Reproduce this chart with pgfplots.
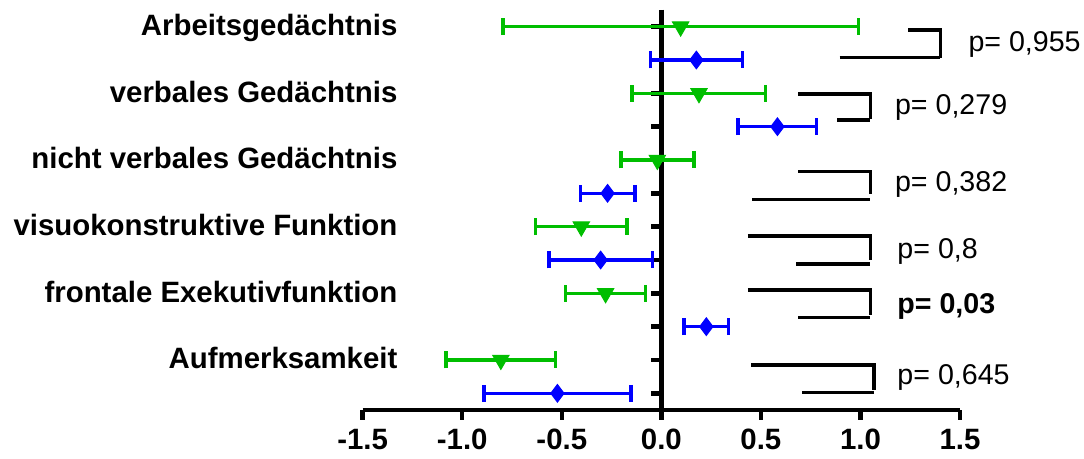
\documentclass[border=0pt]{standalone}
\usepackage{pgfplots}
\pgfplotsset{compat=1.18}
\usepackage{pgfplotstable}
\usepackage{fontspec}
\setmainfont{Liberation Sans}
\definecolor{pgreen}{RGB}{0,190,0}
\definecolor{pblue}{RGB}{0,0,255}

\pgfplotstableread{
y x em ep
1 0.097 0.893 0.893
3 0.189 0.335 0.335
5 -0.020 0.183 0.183
7 -0.402 0.230 0.230
9 -0.280 0.201 0.201
11 -0.806 0.275 0.275
}\greentab
\pgfplotstableread{
y x em ep
2 0.176 0.231 0.231
4 0.583 0.197 0.197
6 -0.270 0.137 0.137
8 -0.305 0.260 0.260
10 0.226 0.112 0.112
12 -0.522 0.369 0.369
}\bluetab

\newcommand{\lab}{\fontsize{14.7}{17}\selectfont}
\newcommand{\plab}{\fontsize{14.3}{17}\selectfont}
\begin{document}
\begin{tikzpicture}
\begin{axis}[
  scale only axis, width=298.65pt, height=200pt,
  xmin=-1.5, xmax=1.5, ymin=0.5, ymax=12.5, y dir=reverse,
  axis x line=bottom, axis y line=middle,
  axis line style={-, line width=2.25pt, black},
  every inner x axis line/.append style={-, line width=2.25pt},
  every inner y axis line/.append style={-, line width=2.25pt},
  every outer x axis line/.append style={-, line width=2.25pt},
  every outer y axis line/.append style={-, line width=2.25pt},
  xtick={-1.5,-1,-0.5,0,0.5,1,1.5},
  xticklabels={-1.5,-1.0,-0.5,0.0,0.5,1.0,1.5},
  xticklabel style={font=\lab\bfseries, yshift=-1pt},
  ytick={1,2,3,4,5,6,7,8,9,10,11,12},
  yticklabels={},
  tick align=outside,
  major tick length=5pt,
  tick style={line width=2.25pt, black},
  clip=false,
]
% y axis line (reinforced)
\addplot[black, line width=2.4pt] coordinates {(0,0.5) (0,12.5)};
% brackets
\addplot[black, line width=1.6pt] coordinates {(1.239,1.10) (1.401,1.10) (1.401,1.93)};
\addplot[black, line width=1.6pt] coordinates {(0.896,1.93) (1.401,1.93)};
\addplot[black, line width=1.6pt] coordinates {(0.687,3.02) (1.050,3.02) (1.050,3.78)};
\addplot[black, line width=1.6pt] coordinates {(0.884,3.80) (1.050,3.80)};
\addplot[black, line width=1.6pt] coordinates {(0.687,5.35) (1.050,5.35) (1.050,6.02)};
\addplot[black, line width=1.6pt] coordinates {(0.457,6.18) (1.050,6.18)};
\addplot[black, line width=1.6pt] coordinates {(0.435,7.28) (1.050,7.28) (1.050,8.00)};
\addplot[black, line width=1.6pt] coordinates {(0.678,8.12) (1.050,8.12)};
\addplot[black, line width=1.6pt] coordinates {(0.435,8.90) (1.050,8.90) (1.050,9.65)};
\addplot[black, line width=1.6pt] coordinates {(0.687,9.73) (1.050,9.73)};
\addplot[black, line width=1.6pt] coordinates {(0.452,11.15) (1.068,11.15) (1.068,11.90)};
\addplot[black, line width=1.6pt] coordinates {(0.707,11.98) (1.068,11.98)};
% data
\addplot[pgreen, only marks, mark=triangle*, mark size=4.7pt, mark options={rotate=180, fill=pgreen, draw=pgreen, line width=0.5pt},
  error bars/.cd, x dir=both, x explicit,
  error bar style={line width=1.8pt, pgreen},
  error mark options={pgreen, line width=1.8pt, mark size=4.25pt, rotate=90}]
  table[x=x, y=y, x error minus=em, x error plus=ep] {\greentab};
\addplot[pblue, only marks, mark=diamond*, mark size=4.4pt, mark options={fill=pblue, draw=pblue, line width=0.5pt},
  error bars/.cd, x dir=both, x explicit,
  error bar style={line width=1.8pt, pblue},
  error mark options={pblue, line width=1.8pt, mark size=4.25pt, rotate=90}]
  table[x=x, y=y, x error minus=em, x error plus=ep] {\bluetab};
% category labels
\foreach \r/\t in {1/Arbeitsgedächtnis,3/verbales Gedächtnis,5/nicht verbales Gedächtnis,7/visuokonstruktive Funktion,9/frontale Exekutivfunktion,11/Aufmerksamkeit}{
  \edef\tmp{\noexpand\node[anchor=base east, inner sep=0pt, font=\noexpand\lab\noexpand\bfseries] at (axis cs:-1.3236,\r) [yshift=-4.4pt] {\t};}
  \tmp
}
% p-values
\node[anchor=base west, inner sep=0pt, font=\plab] at (axis cs:1.541,1.76) {p= 0,955};
\node[anchor=base west, inner sep=0pt, font=\plab] at (axis cs:1.172,3.65) {p= 0,279};
\node[anchor=base west, inner sep=0pt, font=\plab] at (axis cs:1.172,5.95) {p= 0,382};
\node[anchor=base west, inner sep=0pt, font=\plab] at (axis cs:1.184,7.95) {p= 0,8};
\node[anchor=base west, inner sep=0pt, font=\plab\bfseries] at (axis cs:1.184,9.60) {p= 0,03};
\node[anchor=base west, inner sep=0pt, font=\plab] at (axis cs:1.184,11.75) {p= 0,645};
\end{axis}
\pgfresetboundingbox
\path (-181.35pt,-24.5pt) rectangle (360.65pt,205pt);
\end{tikzpicture}
\end{document}
